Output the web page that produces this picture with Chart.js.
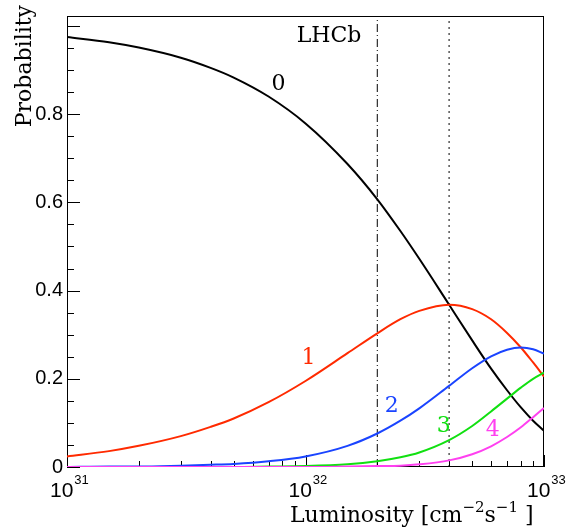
<!DOCTYPE html>
<html>
<head>
<meta charset="utf-8">
<script src="https://cdn.jsdelivr.net/npm/chart.js@4.4.1/dist/chart.umd.min.js"></script>
<style>
  html, body { margin: 0; padding: 0; background: #fff; }
  #wrap { width: 571px; height: 531px; }
</style>
</head>
<body>
<div id="wrap"><canvas id="c" width="571" height="531"></canvas></div>
<script>
// luminosity in cm^-2 s^-1
var lumi = [1e31, 1.5e31, 2e31, 3e31, 4e31, 5e31, 7e31, 1e32, 1.5e32, 2e32, 2.5e32, 3e32, 4e32, 5e32, 6e32, 7e32, 8e32, 9e32, 1e33];
// probability of n visible interactions per crossing
var p0 = [0.975, 0.963, 0.951, 0.928, 0.905, 0.883, 0.840, 0.779, 0.687, 0.607, 0.535, 0.472, 0.368, 0.287, 0.223, 0.174, 0.135, 0.105, 0.082];
var p1 = [0.024, 0.036, 0.048, 0.070, 0.091, 0.110, 0.147, 0.195, 0.258, 0.303, 0.335, 0.354, 0.368, 0.358, 0.335, 0.304, 0.271, 0.237, 0.205];
var p2 = [0.000, 0.001, 0.001, 0.003, 0.005, 0.007, 0.013, 0.024, 0.048, 0.076, 0.105, 0.133, 0.184, 0.224, 0.251, 0.266, 0.271, 0.267, 0.257];
var p3 = [0.000, 0.000, 0.000, 0.000, 0.000, 0.000, 0.001, 0.002, 0.006, 0.013, 0.022, 0.033, 0.061, 0.093, 0.126, 0.155, 0.180, 0.200, 0.214];
var p4 = [0.000, 0.000, 0.000, 0.000, 0.000, 0.000, 0.000, 0.000, 0.001, 0.002, 0.003, 0.006, 0.015, 0.029, 0.047, 0.068, 0.090, 0.113, 0.134];
var curveNames = ["0", "1", "2", "3", "4"];
// where the curve names sit (luminosity, probability)
var nameLumi = [7.7e31, 1.03e32, 2.3e32, 3.8e32, 6.1e32];
var nameProb = [0.867, 0.247, 0.137, 0.092, 0.083];
// vertical markers
var markLumi = [2e32, 4e32];
var xDecades = [1e31, 1e32, 1e33];
var xExp = ["31", "32", "33"];

var yMin = 0, yMax = 1.0225;
var colors = ["#000000", "#ff2a00", "#1a44ff", "#11e011", "#ff40f0"];
var serif = "'DejaVu Serif', serif";
var sans = "'Liberation Sans', Arial, sans-serif";

function pts(ys) {
  return lumi.map(function (l, i) { return { x: l, y: ys[i] }; });
}

var dataSets = [];
[p0, p1, p2, p3, p4].forEach(function (ys, i) {
  dataSets.push({
    label: curveNames[i],
    data: pts(ys),
    borderColor: colors[i],
    borderWidth: 2,
    pointRadius: 0,
    cubicInterpolationMode: 'monotone',
    fill: false,
    order: 4 - i
  });
});
// dash-dot and dotted markers
dataSets.push({
  label: 'm1',
  data: [{ x: markLumi[0], y: yMin }, { x: markLumi[0], y: yMax }],
  borderColor: '#000',
  borderWidth: 1,
  borderDash: [8, 3, 1, 3],
  pointRadius: 0,
  order: 10
});
dataSets.push({
  label: 'm2',
  data: [{ x: markLumi[1], y: yMin }, { x: markLumi[1], y: yMax }],
  borderColor: '#000',
  borderWidth: 1,
  borderDash: [2, 4],
  pointRadius: 0,
  order: 10
});

var decor = {
  id: 'decor',
  beforeDatasetsDraw: function (chart) {
    var ctx = chart.ctx;
    var a = chart.chartArea;
    var xs = chart.scales.x, ys = chart.scales.y;
    ctx.save();
    // frame
    ctx.strokeStyle = '#000';
    ctx.lineWidth = 1;
    ctx.strokeRect(a.left + 0.5, a.top + 0.5, a.right - a.left - 1, a.bottom - a.top - 1);

    // y ticks pointing inwards
    ctx.beginPath();
    for (var k = 0; k <= 20; k++) {
      var v = k * 0.05;
      var py = Math.round(ys.getPixelForValue(v)) + 0.5;
      var len = (k % 4 == 0) ? 13 : 7;
      ctx.moveTo(a.left, py);
      ctx.lineTo(a.left + len, py);
    }
    // x ticks (log)
    for (var d = 0; d < xDecades.length; d++) {
      for (var m = 1; m <= 9; m++) {
        var val = xDecades[d] * m;
        if (val > xDecades[xDecades.length - 1]) break;
        var px = Math.round(xs.getPixelForValue(val)) + 0.5;
        var tl = (m == 1) ? 12 : 6;
        ctx.moveTo(px, a.bottom);
        ctx.lineTo(px, a.bottom - tl);
      }
    }
    ctx.stroke();
    ctx.restore();
  },
  afterDraw: function (chart) {
    var ctx = chart.ctx;
    var xs = chart.scales.x, ys = chart.scales.y;
    ctx.save();
    // x tick labels 10^n
    ctx.fillStyle = '#000';
    ctx.textBaseline = 'alphabetic';
    ctx.textAlign = 'left';
    xDecades.forEach(function (dv, i) {
      var px = xs.getPixelForValue(dv);
      ctx.font = '21px ' + sans;
      ctx.fillText('10', px - 17, 497);
      var w = ctx.measureText('10').width;
      ctx.font = '13px ' + sans;
      ctx.fillText(xExp[i], px - 17 + w + 1, 484);
    });

    // x title
    var tx = 290, base = 522;
    var parts = [
      ['Luminosity [cm', 22, 0],
      ['\u22122', 15, -10],
      ['s', 22, 0],
      ['\u22121', 15, -10],
      [' ]', 22, 0]
    ];
    parts.forEach(function (p) {
      ctx.font = p[1] + 'px ' + serif;
      ctx.fillText(p[0], tx, base + p[2]);
      tx += ctx.measureText(p[0]).width;
    });

    // y title
    ctx.save();
    ctx.translate(31, 5);
    ctx.rotate(-Math.PI / 2);
    ctx.textAlign = 'right';
    ctx.font = '22px ' + serif;
    ctx.fillText('Probability', 0, 0);
    ctx.restore();

    // LHCb
    ctx.textAlign = 'center';
    ctx.textBaseline = 'middle';
    ctx.font = '22px ' + serif;
    ctx.fillText('LHCb', 329, 36);

    // curve names
    curveNames.forEach(function (n, i) {
      ctx.fillStyle = colors[i];
      ctx.fillText(n, xs.getPixelForValue(nameLumi[i]), ys.getPixelForValue(nameProb[i]));
    });
    ctx.restore();
  }
};

new Chart(document.getElementById('c'), {
  type: 'line',
  data: { datasets: dataSets },
  options: {
    responsive: false,
    animation: false,
    layout: { padding: { top: 12, right: 27, bottom: 64, left: 0 } },
    plugins: { legend: { display: false }, tooltip: { enabled: false } },
    scales: {
      x: {
        type: 'logarithmic',
        min: 1e31,
        max: 1e33,
        display: false
      },
      y: {
        min: yMin,
        max: yMax,
        grid: { display: false, drawTicks: false },
        border: { display: false },
        afterFit: function (s) { s.width = 67; },
        ticks: {
          stepSize: 0.2,
          padding: 4,
          color: '#000',
          font: { family: sans, size: 20 },
          callback: function (v) {
            if (Math.abs(v - Math.round(v * 5) / 5) > 1e-6) return '';
            return String(+v.toFixed(1));
          }
        }
      }
    }
  },
  plugins: [decor]
});
</script>
</body>
</html>
